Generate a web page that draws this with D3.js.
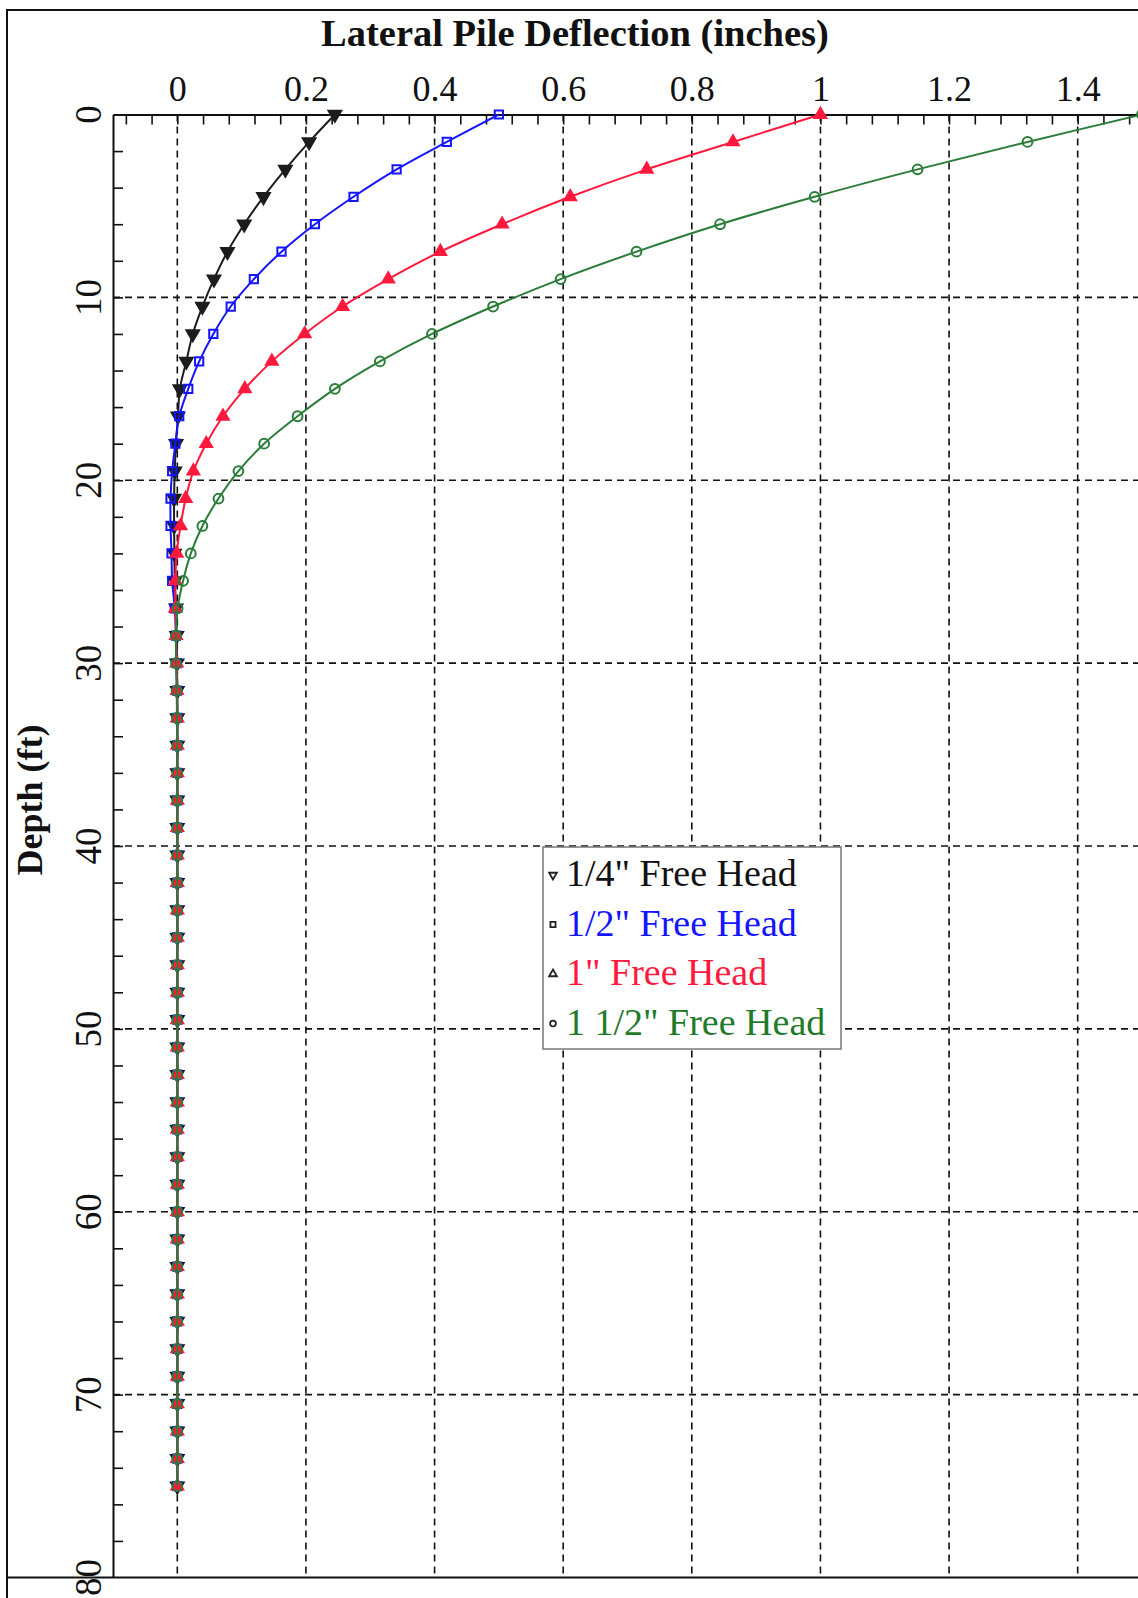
<!DOCTYPE html>
<html>
<head>
<meta charset="utf-8">
<script src="https://cdn.jsdelivr.net/npm/d3@7/dist/d3.min.js"></script>
<style>
  body { margin: 0; background: #fff; }
  svg { display: block; }
</style>
</head>
<body>
<div class="chart"></div>
<script>
// depth of each computed point (ft)
var depths = [0, 1.5, 3, 4.5, 6, 7.5, 9, 10.5, 12, 13.5, 15, 16.5, 18, 19.5, 21, 22.5, 24, 25.5, 27, 28.5,
  30, 31.5, 33, 34.5, 36, 37.5, 39, 40.5, 42, 43.5, 45, 46.5, 48, 49.5, 51, 52.5, 54, 55.5, 57, 58.5,
  60, 61.5, 63, 64.5, 66, 67.5, 69, 70.5, 72, 73.5, 75];

// lateral deflection (inches)
var quarterHead = [0.245, 0.205, 0.168, 0.134, 0.104, 0.078, 0.057, 0.039, 0.024, 0.014, 0.004, 0.001, -0.002, -0.004, -0.005, -0.005, -0.0045, -0.004, -0.002, -0.001,
  -0.0005, 0, 0, 0, 0, 0, 0, 0, 0, 0, 0, 0, 0, 0, 0, 0, 0, 0, 0, 0,
  0, 0, 0, 0, 0, 0, 0, 0, 0, 0, 0];
var halfHead = [0.5, 0.419, 0.341, 0.274, 0.214, 0.162, 0.119, 0.083, 0.056, 0.034, 0.017, 0.003, -0.003, -0.008, -0.0105, -0.0105, -0.009, -0.008, -0.004, -0.002,
  -0.001, -0.0005, 0, 0, 0, 0, 0, 0, 0, 0, 0, 0, 0, 0, 0, 0, 0, 0, 0, 0,
  0, 0, 0, 0, 0, 0, 0, 0, 0, 0, 0];
var oneHead = [1.0, 0.864, 0.730, 0.611, 0.505, 0.409, 0.328, 0.257, 0.198, 0.147, 0.105, 0.071, 0.045, 0.025, 0.013, 0.005, -0.001, -0.003, -0.003, -0.002,
  -0.001, -0.0005, 0, 0, 0, 0, 0, 0, 0, 0, 0, 0, 0, 0, 0, 0, 0, 0, 0, 0,
  0, 0, 0, 0, 0, 0, 0, 0, 0, 0, 0];
var oneHalfHead = [1.5, 1.322, 1.151, 0.991, 0.844, 0.714, 0.596, 0.491, 0.396, 0.315, 0.245, 0.187, 0.135, 0.095, 0.064, 0.039, 0.021, 0.009, 0.0005, -0.002,
  -0.002, -0.001, -0.0005, 0, 0, 0, 0, 0, 0, 0, 0, 0, 0, 0, 0, 0, 0, 0, 0, 0,
  0, 0, 0, 0, 0, 0, 0, 0, 0, 0, 0];

var legendLabels = ['1/4" Free Head', '1/2" Free Head', '1" Free Head', '1 1/2" Free Head'];

var xTicks = [0, 0.2, 0.4, 0.6, 0.8, 1, 1.2, 1.4];
var xTickLabels = ['0', '0.2', '0.4', '0.6', '0.8', '1', '1.2', '1.4'];
var xMinorTicks = [-0.08, -0.04, 0, 0.04, 0.08, 0.12, 0.16, 0.2, 0.24, 0.28, 0.32, 0.36, 0.4, 0.44, 0.48, 0.52, 0.56, 0.6,
  0.64, 0.68, 0.72, 0.76, 0.8, 0.84, 0.88, 0.92, 0.96, 1, 1.04, 1.08, 1.12, 1.16, 1.2, 1.24, 1.28, 1.32, 1.36, 1.4, 1.44, 1.48];
var yTicks = [0, 10, 20, 30, 40, 50, 60, 70, 80];
var yGridTicks = [10, 20, 30, 40, 50, 60, 70];
var yMinorTicks = [2, 4, 6, 8, 10, 12, 14, 16, 18, 20, 22, 24, 26, 28, 30, 32, 34, 36, 38, 40, 42, 44, 46, 48, 50,
  52, 54, 56, 58, 60, 62, 64, 66, 68, 70, 72, 74, 76, 78];

var width = 1138, height = 1598;
// "top" is taken by window.top, so plot edges get their own names
var plotLeft = 113, plotTop = 114.5, plotRight = 1142, plotBottom = 1577.5;
var serif = '"Liberation Serif", "Times New Roman", serif';

var svg = d3.select(".chart")
  .append("svg")
  .attr("width", width)
  .attr("height", height)
  .style("background", "#fff");

var x = d3.scaleLinear().domain([-0.1, 1.5]).range([plotLeft, plotRight]);
var y = d3.scaleLinear().domain([0, 80]).range([plotTop, plotBottom]);

// outer frame
svg.append("path")
  .attr("d", "M7,1600 L7,10 L1140,10")
  .attr("fill", "none")
  .attr("stroke", "#111")
  .attr("stroke-width", 2);

// dashed grid
svg.append("g").selectAll("line")
  .data(xTicks)
  .enter().append("line")
  .attr("x1", function(d) { return x(d); })
  .attr("x2", function(d) { return x(d); })
  .attr("y1", plotTop)
  .attr("y2", plotBottom)
  .attr("stroke", "#111")
  .attr("stroke-width", 1.6)
  .attr("stroke-dasharray", "7,5");

svg.append("g").selectAll("line")
  .data(yGridTicks)
  .enter().append("line")
  .attr("x1", plotLeft)
  .attr("x2", plotRight)
  .attr("y1", function(d) { return y(d); })
  .attr("y2", function(d) { return y(d); })
  .attr("stroke", "#111")
  .attr("stroke-width", 1.6)
  .attr("stroke-dasharray", "7,5");

// top axis: inward ticks, then labels
var topAxis = svg.append("g").attr("transform", "translate(0," + plotTop + ")");
topAxis.call(d3.axisTop(x).tickValues(xMinorTicks).tickSize(-10).tickSizeOuter(0).tickFormat(""));
topAxis.append("g").call(d3.axisTop(x).tickValues(xTicks).tickSize(0).tickPadding(14)
  .tickFormat(function(d, i) { return xTickLabels[i]; }));
topAxis.selectAll("path.domain").attr("stroke", "#111").attr("stroke-width", 2);
topAxis.selectAll(".tick line").attr("stroke", "#111").attr("stroke-width", 1.6);
topAxis.selectAll("text")
  .attr("fill", "#111")
  .style("font-family", serif)
  .style("font-size", "36px");

// left axis
var leftAxis = svg.append("g").attr("transform", "translate(" + plotLeft + ",0)");
leftAxis.call(d3.axisLeft(y).tickValues(yMinorTicks).tickSize(-10).tickSizeOuter(0).tickFormat(""));
leftAxis.selectAll("path.domain").attr("stroke", "#111").attr("stroke-width", 2);
leftAxis.selectAll(".tick line").attr("stroke", "#111").attr("stroke-width", 1.6);

svg.append("g").selectAll("text")
  .data(yTicks)
  .enter().append("text")
  .attr("transform", function(d) { return "translate(101," + y(d) + ") rotate(-90)"; })
  .attr("text-anchor", "middle")
  .attr("fill", "#111")
  .style("font-family", serif)
  .style("font-size", "37px")
  .text(function(d) { return d; });

// bottom border
svg.append("line")
  .attr("x1", 7).attr("x2", 1140)
  .attr("y1", plotBottom).attr("y2", plotBottom)
  .attr("stroke", "#111")
  .attr("stroke-width", 2);

// titles
svg.append("text")
  .attr("x", 575)
  .attr("y", 46)
  .attr("text-anchor", "middle")
  .attr("fill", "#111")
  .style("font-family", serif)
  .style("font-weight", "bold")
  .style("font-size", "38.5px")
  .text("Lateral Pile Deflection (inches)");

svg.append("text")
  .attr("transform", "translate(42,800) rotate(-90)")
  .attr("text-anchor", "middle")
  .attr("fill", "#111")
  .style("font-family", serif)
  .style("font-weight", "bold")
  .style("font-size", "36px")
  .text("Depth (ft)");

// series
var series = [
  { values: quarterHead, color: "#1c1c1c", shape: d3.symbolTriangle, flip: true, fill: "#1c1c1c", size: 70 },
  { values: halfHead, color: "#1414ff", shape: d3.symbolSquare, flip: false, fill: "none", size: 68 },
  { values: oneHead, color: "#ff1a3d", shape: d3.symbolTriangle, flip: false, fill: "#ff1a3d", size: 60 },
  { values: oneHalfHead, color: "#2a7d38", shape: d3.symbolCircle, flip: false, fill: "none", size: 75 }
];
var legendColors = ["#111", "#1414ff", "#ff1a3d", "#1f7a2a"];

var line = d3.line()
  .x(function(d) { return x(d[1]); })
  .y(function(d) { return y(d[0]); })
  .curve(d3.curveCatmullRom);

series.forEach(function(s) {
  var pts = depths.map(function(dep, i) { return [dep, s.values[i]]; });
  var g = svg.append("g");
  g.append("path")
    .datum(pts)
    .attr("d", line)
    .attr("fill", "none")
    .attr("stroke", s.color)
    .attr("stroke-width", 2);
  g.selectAll("path.mk")
    .data(pts)
    .enter().append("path")
    .attr("class", "mk")
    .attr("d", d3.symbol().type(s.shape).size(s.size))
    .attr("transform", function(d) {
      return "translate(" + x(d[1]) + "," + y(d[0]) + ")" + (s.flip ? " rotate(180)" : "");
    })
    .attr("fill", s.fill)
    .attr("stroke", s.color)
    .attr("stroke-width", 2);
});

// legend
var legend = svg.append("g");
legend.append("rect")
  .attr("x", 543).attr("y", 847)
  .attr("width", 298).attr("height", 202)
  .attr("fill", "#fff")
  .attr("stroke", "#777")
  .attr("stroke-width", 1.5);

var rows = legend.selectAll("g.row")
  .data(legendLabels)
  .enter().append("g")
  .attr("class", "row")
  .attr("transform", function(d, i) { return "translate(0," + (886 + i * 49.5) + ")"; });

rows.append("path")
  .attr("d", function(d, i) { return d3.symbol().type(series[i].shape).size(26)(); })
  .attr("transform", function(d, i) { return "translate(553,-11)" + (series[i].flip ? " rotate(180)" : ""); })
  .attr("fill", "none")
  .attr("stroke", "#222")
  .attr("stroke-width", 1.8);

rows.append("text")
  .attr("x", 566)
  .attr("fill", function(d, i) { return legendColors[i]; })
  .style("font-family", serif)
  .style("font-size", "38px")
  .text(function(d) { return d; });
</script>
</body>
</html>
